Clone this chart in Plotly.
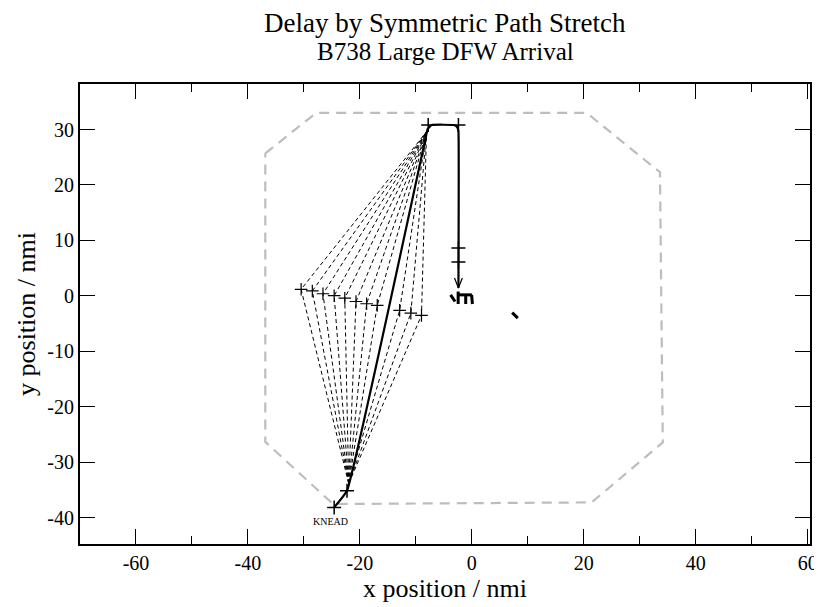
import plotly.graph_objects as go

# ---- data (nmi) ----
TITLE = "Delay by Symmetric Path Stretch"
SUBTITLE = "B738 Large DFW Arrival"

# gray dashed boundary polygon
BOUND_X = [-36.9, -27.8, 20.5, 33.6, 34.1, 21.4, -24.8, -36.9, -36.9]
BOUND_Y = [25.7, 33.0, 33.0, 22.3, -26.4, -37.2, -37.5, -26.3, 25.7]

# stretched (dashed) paths: start -> mid waypoint -> end
FAN_START = (-22.0, -33.8)
FAN_END = (-8.1, 29.6)
FAN_MID_X = [-30.5, -28.5, -26.6, -24.6, -22.7, -20.7, -18.8, -16.9, -12.9, -10.9, -9.0]
FAN_MID_Y = [1.2, 0.9, 0.4, 0.05, -0.4, -1.0, -1.4, -1.7, -2.6, -3.1, -3.5]

# nominal (solid) path
PATH_X = [-24.6, -22.3, -8.2, -7.9, -7.2, -3.2, -2.6, -2.4, -2.4]
PATH_Y = [-38.1, -35.1, 28.8, 30.1, 30.8, 30.8, 30.4, 29.6, 1.5]

# waypoint markers on the nominal path
WPT_X = [-24.6, -22.3, -7.8, -2.4, -2.4, -2.4]
WPT_Y = [-38.1, -35.1, 30.8, 30.8, 8.65, 6.1]
WPT_LABEL = "KNEAD"

# arrow head at end of nominal path
ARROW_TIP = (-2.4, 1.45)
ARROW_LEN = 1.8
ARROW_HALF = 0.7

# runway strokes near the airport
RWY_X = [-3.8, -3.0, None, -2.45, -2.45, None, -2.45, 0.0, None, -1.1, -1.1, None, -0.05, 0.1]
RWY_Y = [0.2, -1.0, None, 0.8, -1.45, None, 0.2, 0.2, None, 0.2, -1.45, None, 0.2, -1.45]
RWY2_X = [7.2, 8.2]
RWY2_Y = [-3.0, -4.0]

X_RANGE = [-70, 60.4]
Y_RANGE = [-44.7, 38.2]
X_TICKS = [-60, -40, -20, 0, 20, 40, 60]
X_TICK_LABELS = ["-60", "-40", "-20", "0", "20", "40", "60"]
Y_TICKS = [-40, -30, -20, -10, 0, 10, 20, 30]
Y_TICK_LABELS = ["-40", "-30", "-20", "-10", "0", "10", "20", "30"]

FONT = "Liberation Serif, Times New Roman, serif"

fig = go.Figure()

fig.add_trace(go.Scatter(x=BOUND_X, y=BOUND_Y, mode="lines",
                         line=dict(color="#bdbdbd", width=2.2, dash="10px,7px"),
                         hoverinfo="skip", showlegend=False))

for mx, my in zip(FAN_MID_X, FAN_MID_Y):
    fig.add_trace(go.Scatter(x=[FAN_START[0], mx, FAN_END[0]],
                             y=[FAN_START[1], my, FAN_END[1]],
                             mode="lines", line=dict(color="black", width=1, dash="4px,3px"),
                             showlegend=False))
fig.add_trace(go.Scatter(x=FAN_MID_X, y=FAN_MID_Y, mode="markers",
                         marker=dict(symbol="cross-thin", size=9, line=dict(color="black", width=1.2)),
                         showlegend=False))

fig.add_trace(go.Scatter(x=PATH_X, y=PATH_Y, mode="lines",
                         line=dict(color="black", width=2.2, shape="spline", smoothing=0.3),
                         showlegend=False))
fig.add_trace(go.Scatter(x=WPT_X, y=WPT_Y, mode="markers",
                         marker=dict(symbol="cross-thin", size=10, line=dict(color="black", width=1.5)),
                         showlegend=False))

ax, ay = ARROW_TIP
fig.add_trace(go.Scatter(x=[ax - ARROW_HALF, ax, ax + ARROW_HALF],
                         y=[ay + ARROW_LEN, ay, ay + ARROW_LEN],
                         mode="lines", line=dict(color="black", width=1.2), showlegend=False))

fig.add_trace(go.Scatter(x=RWY_X, y=RWY_Y, mode="lines",
                         line=dict(color="black", width=3), showlegend=False))
fig.add_trace(go.Scatter(x=RWY2_X, y=RWY2_Y, mode="lines",
                         line=dict(color="black", width=3), showlegend=False))

fig.add_annotation(x=WPT_X[0], y=WPT_Y[0], text=WPT_LABEL, showarrow=False,
                   xshift=-4, yshift=-14, font=dict(family=FONT, size=10, color="black"))

fig.add_annotation(x=0.5, y=1.132, xref="paper", yref="paper", text=TITLE, showarrow=False,
                   yanchor="middle", borderpad=0, font=dict(family=FONT, size=27, color="black"))
fig.add_annotation(x=0.5, y=1.070, xref="paper", yref="paper", text=SUBTITLE, showarrow=False,
                   yanchor="middle", borderpad=0, font=dict(family=FONT, size=25, color="black"))

axis_common = dict(showgrid=False, zeroline=False, showline=True, linecolor="black",
                   linewidth=2, mirror="allticks", ticks="inside", ticklen=15, tickwidth=1,
                   tickcolor="black", automargin=False, ticklabeloverflow="allow",
                   tickfont=dict(family=FONT, size=20, color="black"))

fig.update_xaxes(range=X_RANGE, tickmode="array", tickvals=X_TICKS, ticktext=X_TICK_LABELS,
                 minor=dict(ticks="inside", ticklen=8, dtick=10, tick0=0, tickcolor="black", tickwidth=1),
                 title=dict(text="x position / nmi", font=dict(family=FONT, size=26, color="black"),
                            standoff=2),
                 **axis_common)
fig.update_yaxes(range=Y_RANGE, tickmode="array", tickvals=Y_TICKS, ticktext=Y_TICK_LABELS,
                 title=dict(text="y position / nmi", font=dict(family=FONT, size=26, color="black"),
                            standoff=4),
                 **axis_common)

fig.update_layout(width=822, height=607, plot_bgcolor="white", paper_bgcolor="white",
                  margin=dict(l=72, r=20, t=76, b=71), showlegend=False)

fig.write_html("out.html")
